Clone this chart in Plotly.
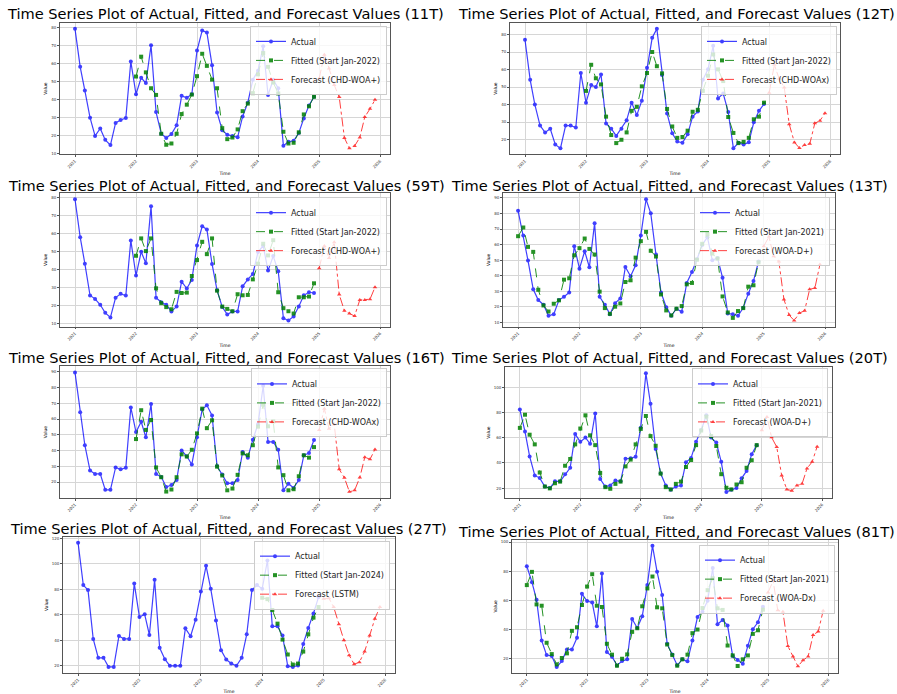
import pandas as pd
import plotly.graph_objects as go

# ---------------- data ----------------
panel_names = ["11T", "12T", "59T", "13T", "16T", "20T", "27T", "81T"]
forecast_labels = ["CHD-WOA+", "CHD-WOAx", "CHD-WOA+", "WOA-D+", "CHD-WOAx", "WOA-D+", "LSTM", "WOA-Dx"]
fitted_start = ["2022-01-01", "2022-01-01", "2022-01-01", "2021-01-01", "2022-01-01", "2021-01-01", "2024-01-01", "2021-01-01"]
y_dtick = [10, 10, 10, 10, 10, 20, 20, 20]

actual_11T = [79.3, 58.3, 45.1, 30.1, 20.0, 24.1, 17.8, 14.9, 27.2, 28.8, 29.9, 61.2,
              43.1, 52.2, 49.3, 70.2, 33.2, 21.2, 18.9, 21.0, 25.9, 42.2, 41.1, 43.1,
              67.3, 78.4, 77.3, 59.2, 33.0, 23.2, 20.7, 20.0, 19.2, 30.8, 38.4, 51.1,
              56.1, 69.7, 42.7, 51.1, 46.4, 14.5, 16.7, 17.3, 21.6, 29.7, 36.8, 41.7]
fitted_11T = [52.9, 63.9, 55.2, 46.4, 42.7, 21.2, 15.1, 15.8, 21.2, 32.1, 37.3, 42.9,
              53.1, 65.5, 58.8, 51.2, 46.4, 24.3, 18.2, 19.1, 23.6, 33.7, 37.9, 43.7,
              54.1, 65.9, 58.3, 49.6, 43.5, 22.3, 15.8, 16.2, 22.0, 31.9, 36.4, 41.7]
forecast_11T = [51.8, 65.0, 57.4, 48.2, 41.5, 18.9, 13.1, 14.4, 19.1, 30.5, 35.0, 40.0]

actual_12T = [77.0, 54.1, 40.0, 28.0, 24.1, 26.2, 17.2, 15.0, 28.0, 28.0, 26.9, 58.0,
              41.1, 51.1, 50.0, 57.1, 29.2, 26.2, 22.1, 26.2, 31.0, 41.1, 34.0, 42.2,
              61.0, 78.1, 83.2, 56.9, 34.9, 23.6, 18.9, 18.2, 23.0, 33.1, 36.1, 54.1,
              60.1, 73.5, 43.5, 46.3, 35.7, 15.0, 18.2, 17.2, 18.5, 29.9, 36.4, 40.3]
fitted_12T = [47.8, 62.7, 55.0, 51.5, 33.1, 22.6, 18.0, 19.9, 24.1, 36.4, 38.7, 50.4,
              58.0, 70.0, 61.9, 57.8, 37.5, 27.5, 21.0, 21.5, 25.1, 35.9, 37.0, 47.8,
              56.5, 68.6, 60.1, 53.4, 32.9, 23.8, 18.0, 18.7, 21.0, 31.6, 33.1, 41.1]
forecast_12T = [46.7, 62.7, 54.9, 49.8, 28.8, 18.4, 15.2, 16.9, 17.6, 29.3, 30.8, 35.1]

actual_59T = [79.3, 58.1, 43.3, 25.5, 23.6, 20.3, 15.8, 13.2, 24.3, 26.4, 25.5, 56.3,
              36.6, 49.9, 43.5, 75.4, 24.3, 21.7, 20.3, 16.6, 19.3, 33.2, 29.4, 34.2,
              53.5, 64.2, 62.4, 43.1, 28.4, 19.0, 14.9, 16.6, 16.6, 30.6, 34.5, 37.5,
              49.8, 53.3, 39.4, 47.5, 39.0, 12.8, 11.5, 13.8, 19.3, 25.6, 27.3, 26.9]
fitted_59T = [47.7, 57.4, 50.3, 57.4, 29.5, 21.2, 19.0, 17.8, 27.5, 26.9, 27.1, 36.4,
              45.3, 55.5, 48.6, 57.4, 28.2, 19.3, 18.0, 16.7, 26.2, 25.6, 25.8, 34.5,
              43.3, 54.4, 47.9, 56.4, 27.3, 18.4, 16.7, 15.4, 24.5, 24.5, 24.9, 32.3]
forecast_59T = [40.7, 53.1, 46.4, 55.3, 26.0, 16.9, 15.4, 14.0, 23.0, 23.0, 23.4, 30.1]

actual_13T = [81.8, 65.9, 49.7, 31.2, 24.3, 21.3, 14.1, 15.2, 24.3, 26.4, 29.2, 59.0,
              44.5, 55.7, 45.4, 73.8, 26.4, 21.3, 15.2, 22.3, 25.3, 45.6, 39.6, 46.7,
              65.9, 89.2, 80.1, 53.6, 29.2, 19.7, 14.1, 18.7, 16.7, 35.3, 42.4, 50.6,
              59.8, 64.8, 49.9, 51.4, 38.7, 15.6, 15.2, 14.1, 19.3, 28.4, 36.6, 49.1]
fitted_13T = [65.4, 71.0, 58.5, 55.3, 30.9, 20.8, 16.9, 21.9, 24.1, 37.4, 38.3, 53.1,
              57.7, 63.9, 57.2, 53.6, 29.7, 19.1, 15.4, 20.0, 22.1, 35.9, 37.0, 51.6,
              62.2, 68.2, 56.0, 52.3, 27.9, 17.6, 14.4, 18.7, 20.4, 34.4, 35.3, 50.3,
              60.5, 66.7, 54.2, 51.0, 26.6, 16.3, 12.8, 17.2, 19.1, 32.9, 33.8, 48.6]
forecast_13T = [59.0, 65.0, 52.5, 49.1, 24.7, 14.6, 11.1, 15.9, 17.4, 31.2, 32.0, 47.1]

actual_16T = [89.6, 64.3, 43.4, 27.3, 25.2, 25.2, 15.1, 15.1, 29.3, 28.1, 29.1, 67.4,
              51.7, 58.3, 48.4, 69.5, 25.2, 23.3, 16.9, 18.2, 21.3, 40.1, 36.4, 31.2,
              48.4, 66.0, 68.7, 62.3, 30.2, 24.8, 19.2, 19.2, 21.3, 39.1, 35.5, 46.9,
              56.7, 81.1, 45.5, 45.5, 40.5, 14.8, 19.0, 16.3, 21.3, 37.0, 38.4, 46.7]
fitted_16T = [47.3, 65.6, 53.1, 59.4, 29.3, 23.1, 14.0, 15.3, 23.1, 37.6, 36.2, 40.5,
              50.9, 66.6, 54.2, 59.2, 29.8, 24.2, 14.8, 15.9, 24.6, 38.2, 37.0, 43.4,
              55.2, 69.1, 55.4, 58.5, 29.3, 24.4, 14.8, 15.5, 23.7, 37.0, 35.5, 42.2]
forecast_16T = [53.1, 66.6, 53.8, 56.7, 28.1, 22.7, 13.8, 14.8, 22.9, 35.8, 34.5, 40.7]

actual_20T = [82.5, 65.0, 45.2, 30.1, 28.0, 21.3, 20.1, 25.4, 25.4, 31.1, 36.2, 63.0,
              56.8, 60.2, 55.3, 79.4, 27.2, 21.3, 22.1, 26.0, 25.4, 43.4, 43.7, 45.0,
              68.1, 111.3, 87.1, 51.2, 31.6, 22.1, 18.8, 21.3, 22.1, 40.6, 44.0, 56.8,
              66.3, 77.9, 60.2, 56.3, 40.9, 17.0, 18.8, 20.1, 27.8, 33.7, 47.0, 54.2]
fitted_20T = [67.9, 78.4, 62.5, 54.8, 32.4, 21.3, 19.8, 23.9, 25.2, 37.8, 43.2, 54.8,
              67.4, 77.9, 62.0, 54.2, 32.1, 20.8, 19.5, 23.4, 25.2, 37.3, 42.7, 54.8,
              67.1, 77.4, 61.4, 53.7, 31.6, 20.8, 19.0, 23.4, 25.2, 36.8, 42.4, 54.2,
              65.8, 76.9, 61.4, 53.5, 31.1, 20.3, 19.0, 22.9, 24.7, 36.2, 42.2, 54.2]
forecast_20T = [66.1, 76.6, 60.4, 52.7, 30.1, 19.0, 18.0, 22.1, 23.4, 35.7, 40.9, 53.0]

actual_27T = [116.4, 83.3, 79.4, 41.1, 26.3, 26.3, 19.2, 19.2, 43.4, 41.1, 41.1, 84.6,
              58.3, 60.4, 44.2, 87.4, 34.1, 25.2, 20.0, 20.0, 20.0, 49.4, 43.2, 56.2,
              78.3, 98.4, 80.4, 55.5, 32.3, 25.0, 21.8, 20.0, 26.3, 44.7, 79.4, 83.3,
              80.4, 102.6, 51.0, 51.0, 43.7, 19.7, 19.2, 20.3, 37.2, 49.7, 61.1, 73.9]
fitted_27T = [73.4, 72.3, 63.8, 53.1, 40.6, 28.9, 21.0, 21.8, 31.2, 44.7, 57.8, 66.1]
forecast_27T = [72.6, 72.9, 66.1, 52.6, 40.1, 28.3, 21.3, 22.9, 31.2, 43.7, 57.0, 66.1]

actual_81T = [83.4, 72.4, 60.3, 32.2, 22.2, 21.6, 14.0, 18.1, 26.1, 26.1, 34.1, 64.4,
              59.4, 58.5, 42.0, 78.3, 24.3, 21.1, 15.1, 18.1, 19.3, 47.1, 40.9, 48.9,
              70.4, 97.5, 79.5, 63.5, 30.0, 22.7, 15.2, 19.3, 17.9, 32.3, 48.5, 52.1,
              59.6, 82.2, 43.4, 46.4, 42.5, 21.6, 18.8, 16.3, 28.6, 40.0, 44.8, 55.5]
fitted_81T = [70.4, 79.5, 57.1, 56.2, 30.7, 22.9, 15.8, 20.2, 23.4, 38.9, 41.4, 56.7,
              69.4, 77.9, 56.2, 55.3, 30.0, 22.5, 14.9, 19.7, 22.7, 38.2, 40.7, 55.8,
              68.1, 76.3, 55.1, 54.4, 29.5, 22.2, 14.9, 19.3, 22.5, 37.3, 39.8, 54.6,
              66.9, 75.1, 54.4, 53.3, 28.8, 22.0, 14.7, 19.3, 22.0, 36.8, 39.3, 53.5]
forecast_81T = [65.3, 73.3, 53.0, 52.1, 28.4, 21.3, 14.5, 18.6, 21.3, 36.1, 38.4, 52.8]

actual_all = [actual_11T, actual_12T, actual_59T, actual_13T, actual_16T, actual_20T, actual_27T, actual_81T]
fitted_all = [fitted_11T, fitted_12T, fitted_59T, fitted_13T, fitted_16T, fitted_20T, fitted_27T, fitted_81T]
forecast_all = [forecast_11T, forecast_12T, forecast_59T, forecast_13T, forecast_16T, forecast_20T, forecast_27T, forecast_81T]

# ---------------- layout geometry (pixels) ----------------
W, H = 897, 694
# left, right, top, bottom of each plot box
boxes = [(60, 390, 22, 154), (510, 840, 22, 154),
         (60, 390, 193, 327), (503, 835, 193, 327),
         (60, 390, 367, 499), (505, 832, 368, 499),
         (63, 395, 538, 675), (512, 838, 541, 675)]
title_pos = [(225, 13), (676, 13), (226, 185), (669, 185),
             (226, 358), (669, 358), (228, 530), (676, 533)]
legend_pos = [(387, 25), (837, 25), (387, 197), (830, 197),
              (387, 369), (828, 369), (390, 542), (835, 546)]

FONT = "DejaVu Sans"
fig = go.Figure()
layout = dict(width=W, height=H, margin=dict(l=0, r=0, t=0, b=0),
              paper_bgcolor="white", plot_bgcolor="white",
              font=dict(family=FONT, color="black"), annotations=[])

t_actual = pd.date_range("2021-01-01", periods=48, freq="MS")
t_fc = pd.date_range("2025-01-01", periods=12, freq="MS")

for i in range(8):
    n = "" if i == 0 else str(i + 1)
    lg = "legend" if i == 0 else "legend" + str(i + 1)
    t_fit = pd.date_range(fitted_start[i], periods=len(fitted_all[i]), freq="MS")
    fig.add_trace(go.Scatter(x=t_actual, y=actual_all[i], mode="lines+markers", name="Actual",
                             line=dict(color="blue", width=1.2), marker=dict(symbol="circle", size=4, color="blue"),
                             opacity=0.75, xaxis="x" + n, yaxis="y" + n, legend=lg))
    fig.add_trace(go.Scatter(x=t_fit, y=fitted_all[i], mode="lines+markers",
                             name="Fitted (Start %s)" % pd.Timestamp(fitted_start[i]).strftime("%b-%Y"),
                             line=dict(color="green", width=1, dash="dash"), marker=dict(symbol="square", size=4, color="green"),
                             opacity=0.85, xaxis="x" + n, yaxis="y" + n, legend=lg))
    fig.add_trace(go.Scatter(x=t_fc, y=forecast_all[i], mode="lines+markers",
                             name="Forecast (%s)" % forecast_labels[i],
                             line=dict(color="red", width=1, dash="dashdot"), marker=dict(symbol="triangle-up", size=4, color="red"),
                             opacity=0.75, xaxis="x" + n, yaxis="y" + n, legend=lg))

    l, r, t, b = boxes[i]
    # matplotlib-style 5% margins around the data
    x0, x1 = t_actual[0], t_fc[-1]
    pad = (x1 - x0) * 0.05
    vals = actual_all[i] + fitted_all[i] + forecast_all[i]
    ymin, ymax = min(vals), max(vals)
    ypad = (ymax - ymin) * 0.05
    axcommon = dict(showgrid=True, gridcolor="#d6d6d6", gridwidth=0.8, showline=True, mirror=True,
                    linecolor="#555555", linewidth=0.8, ticks="outside", ticklen=2, tickcolor="#555555",
                    tickfont=dict(size=4, family=FONT, color="#333333"), zeroline=False)
    layout["xaxis" + n] = dict(axcommon, domain=[l / W, r / W], anchor="y" + n,
                               range=[x0 - pad, x1 + pad], type="date", dtick="M12", tick0="2021-01-01",
                               tickformat="%Y", tickangle=-45,
                               title=dict(text="Time", font=dict(size=4.5, family=FONT), standoff=3))
    layout["yaxis" + n] = dict(axcommon, domain=[1 - b / H, 1 - t / H], anchor="x" + n,
                               range=[ymin - ypad, ymax + ypad], dtick=y_dtick[i], tick0=0,
                               title=dict(text="Value", font=dict(size=4.5, family=FONT), standoff=3))
    lx, ly = legend_pos[i]
    layout[lg] = dict(x=lx / W, y=1 - ly / H, xanchor="right", yanchor="top",
                      bgcolor="rgba(255,255,255,0.8)", bordercolor="#cccccc", borderwidth=1,
                      font=dict(size=8, family=FONT, color="#222222"), itemwidth=30)
    tx, ty = title_pos[i]
    layout["annotations"].append(dict(text="Time Series Plot of Actual, Fitted, and Forecast Values (%s)" % panel_names[i],
                                      x=tx / W, y=1 - ty / H, xref="paper", yref="paper",
                                      xanchor="center", yanchor="middle", showarrow=False,
                                      font=dict(size=14.6, family=FONT, color="black")))

fig.update_layout(**layout)
fig.write_html("out.html", config={"displayModeBar": False},
               post_script="document.body.style.margin='0px';document.body.style.overflow='hidden';")
